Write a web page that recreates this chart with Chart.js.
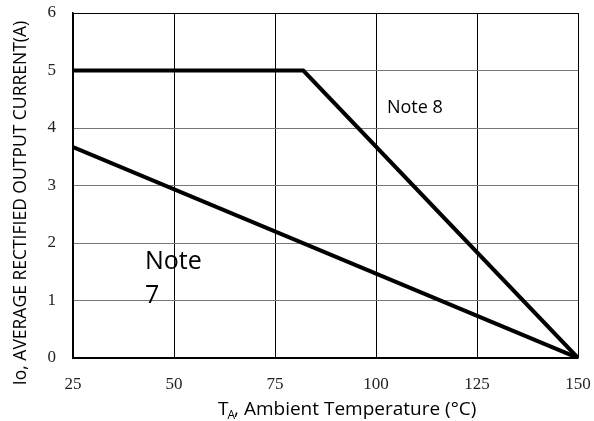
<!DOCTYPE html>
<html>
<head>
<meta charset="utf-8">
<script src="https://cdn.jsdelivr.net/npm/chart.js@4"></script>
<style>
  html, body { margin: 0; padding: 0; background: #fff; }
  #wrap { width: 594px; height: 421px; }
</style>
</head>
<body>
<div id="wrap"><canvas id="myChart" width="594" height="421"></canvas></div>
<script>
// Data (derating curves)
var note8Temps = [25, 82, 150];
var note8Current = [5, 5, 0];
var note7Temps = [25, 150];
var note7Current = [3.67, 0];

var xTicks = [25, 50, 75, 100, 125, 150];
var yTicks = [0, 1, 2, 3, 4, 5, 6];

var yTitle = 'Io, AVERAGE RECTIFIED OUTPUT CURRENT(A)';

function toPoints(xs, ys) {
    return xs.map(function (x, i) { return { x: x, y: ys[i] }; });
}

// no extra padding for the end tick labels
function noPad(scale) {
    scale.paddingTop = 0;
    scale.paddingBottom = 0;
    scale.paddingLeft = 0;
    scale.paddingRight = 0;
}

// Titles and notes (drawn by hand because of the subscript)
var textPlugin = {
    id: 'texts',
    afterDraw: function (chart) {
        var ctx = chart.ctx;
        var xs = chart.scales.x, ys = chart.scales.y;
        ctx.save();
        ctx.fillStyle = '#000';

        // y title
        ctx.save();
        ctx.translate(21, 203);
        ctx.rotate(-Math.PI / 2);
        ctx.font = '17.5px "Open Sans"';
        ctx.textAlign = 'center';
        ctx.textBaseline = 'middle';
        ctx.fillText(yTitle, 0, 0, 374);
        ctx.restore();

        // x title with subscript
        ctx.font = '19px "Open Sans"';
        ctx.textBaseline = 'alphabetic';
        ctx.textAlign = 'left';
        var base = 415;
        var x0 = 218;
        ctx.fillText('T', x0, base);
        var tw = ctx.measureText('T').width;
        ctx.font = '12px "Open Sans"';
        ctx.fillText('A', x0 + tw - 1, base + 4);
        var aw = ctx.measureText('A').width;
        ctx.font = '19px "Open Sans"';
        ctx.fillText(', Ambient Temperature (\u00B0C)', x0 + tw + aw - 2, base);

        // notes
        ctx.font = '18px "Open Sans"';
        ctx.fillText('Note 8', xs.getPixelForValue(102.7), ys.getPixelForValue(4.26));
        ctx.font = '25px "Open Sans"';
        ctx.fillText('Note', xs.getPixelForValue(42.8), ys.getPixelForValue(1.55));
        ctx.fillText('7', xs.getPixelForValue(42.8), ys.getPixelForValue(0.96));
        ctx.restore();
    }
};

var ctx = document.getElementById('myChart').getContext('2d');

var myChart = new Chart(ctx, {
    type: 'line',
    data: {
        datasets: [{
            label: 'Note 8',
            data: toPoints(note8Temps, note8Current),
            borderColor: '#000',
            borderWidth: 4,
            pointRadius: 0,
            tension: 0
        }, {
            label: 'Note 7',
            data: toPoints(note7Temps, note7Current),
            borderColor: '#000',
            borderWidth: 4,
            pointRadius: 0,
            tension: 0
        }]
    },
    options: {
        responsive: false,
        animation: false,
        layout: { padding: { top: 13, right: 16, left: 0, bottom: 0 } },
        plugins: {
            legend: { display: false },
            tooltip: { enabled: false }
        },
        scales: {
            x: {
                type: 'linear',
                min: 25,
                max: 150,
                afterBuildTicks: function (scale) {
                    scale.ticks = xTicks.map(function (v) { return { value: v }; });
                },
                afterFit: function (scale) { scale.height = 63; noPad(scale); },
                grid: { color: '#000', lineWidth: 1, drawTicks: false },
                border: { color: '#000', width: 1.5 },
                ticks: {
                    color: '#222',
                    padding: 16,
                    maxRotation: 0,
                    font: { family: '"Liberation Serif"', size: 17 }
                }
            },
            y: {
                type: 'linear',
                min: 0,
                max: 6,
                afterBuildTicks: function (scale) {
                    scale.ticks = yTicks.map(function (v) { return { value: v }; });
                },
                afterFit: function (scale) { scale.width = 73; noPad(scale); },
                grid: {
                    color: function (c) {
                        return (c.tick && (c.tick.value === 6 || c.tick.value === 0)) ? '#000' : '#777';
                    },
                    lineWidth: 1,
                    drawTicks: false
                },
                border: { color: '#000', width: 1.5 },
                ticks: {
                    color: '#222',
                    padding: 17,
                    font: { family: '"Liberation Serif"', size: 17 }
                }
            }
        }
    },
    plugins: [textPlugin]
});
</script>
</body>
</html>
